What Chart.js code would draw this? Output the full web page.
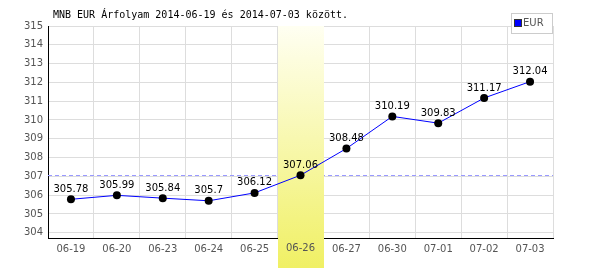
<!DOCTYPE html>
<html>
<head>
<meta charset="utf-8">
<script src="https://cdn.jsdelivr.net/npm/chart.js@4/dist/chart.umd.min.js"></script>
<style>
  html, body { margin: 0; padding: 0; background: #fff; }
  #wrap { width: 600px; height: 270px; }
</style>
</head>
<body>
<div id="wrap"><canvas id="rateChart" width="600" height="270"></canvas></div>
<script>
// MNB EUR rates
const days = ["06-19","06-20","06-23","06-24","06-25","06-26","06-27","06-30","07-01","07-02","07-03"];
const eurRates = [305.78, 305.99, 305.84, 305.7, 306.12, 307.06, 308.48, 310.19, 309.83, 311.17, 312.04];
const yTicks = [304,305,306,307,308,309,310,311,312,313,314,315];
const markedDay = "06-26";
const refRate = 307.06;
const titleText = "MNB EUR Árfolyam 2014-06-19 és 2014-07-03 között.";

const extras = {
  id: "extras",
  beforeDatasetsDraw(chart) {
    const c = chart.ctx, area = chart.chartArea;
    const x = chart.scales.x, y = chart.scales.y;

    // dashed reference line
    const ry = Math.round(y.getPixelForValue(refRate)) + 0.5;
    c.save();
    c.strokeStyle = "#9999ff";
    c.lineWidth = 1;
    c.setLineDash([4, 3]);
    c.beginPath();
    c.moveTo(area.left, ry);
    c.lineTo(area.right, ry);
    c.stroke();
    c.restore();

    // highlighted day band
    const i = days.indexOf(markedDay);
    const half = (x.getPixelForValue(1) - x.getPixelForValue(0)) / 2;
    const cx = x.getPixelForValue(i);
    const grad = c.createLinearGradient(0, area.top, 0, 268);
    grad.addColorStop(0, "rgb(255,255,242)");
    grad.addColorStop(1, "rgb(240,240,100)");
    c.save();
    c.fillStyle = grad;
    c.fillRect(Math.round(cx - half), area.top, Math.round(half * 2), 268 - area.top);
    // tick label again on top of the band
    c.fillStyle = "#555";
    c.font = "10px 'DejaVu Sans'";
    c.textAlign = "center";
    c.textBaseline = "middle";
    c.fillText(markedDay, cx, 248);
    c.restore();
  },
  afterDatasetsDraw(chart) {
    const c = chart.ctx;
    const meta = chart.getDatasetMeta(0);
    c.save();
    c.fillStyle = "#000";
    c.font = "10px 'DejaVu Sans'";
    c.textAlign = "center";
    c.textBaseline = "bottom";
    meta.data.forEach((pt, k) => {
      c.fillText(String(eurRates[k]), pt.x, pt.y - 5);
    });

    // title
    c.font = "10px 'DejaVu Sans Mono'";
    c.textAlign = "left";
    c.textBaseline = "middle";
    c.fillText(titleText, 53, 15);

    // legend
    c.fillStyle = "#fff";
    c.fillRect(511, 13, 41, 20);
    c.strokeStyle = "#cccccc";
    c.lineWidth = 1;
    c.strokeRect(511.5, 13.5, 41, 20);
    c.fillStyle = "#0000ff";
    c.fillRect(515, 20, 6, 6);
    c.strokeStyle = "#333";
    c.strokeRect(514.5, 19.5, 7, 7);
    c.fillStyle = "#555";
    c.font = "10px 'DejaVu Sans'";
    c.fillText("EUR", 523, 23.5);
    c.restore();
  }
};

new Chart(document.getElementById("rateChart"), {
  type: "line",
  data: {
    labels: days,
    datasets: [{
      label: "EUR",
      data: eurRates,
      borderColor: "#0000ff",
      borderWidth: 1,
      tension: 0,
      pointRadius: 4,
      pointBackgroundColor: "#000",
      pointBorderColor: "#000",
      pointBorderWidth: 0
    }]
  },
  options: {
    responsive: false,
    animation: false,
    layout: { padding: { top: 26, right: 47, left: 0, bottom: 0 } },
    plugins: { legend: { display: false }, tooltip: { enabled: false } },
    scales: {
      x: {
        offset: true,
        grid: { color: "#dddddd", drawTicks: false, offset: true },
        border: { color: "#000", width: 1 },
        ticks: { color: "#555", font: { family: "DejaVu Sans", size: 10 }, padding: 5, maxRotation: 0, autoSkip: false },
        afterFit(s) { s.height = 32; }
      },
      y: {
        min: 303.72,
        max: 315,
        grid: { color: "#dddddd", drawTicks: false },
        border: { color: "#000", width: 1 },
        ticks: { color: "#555", font: { family: "DejaVu Sans", size: 10 }, padding: 5 },
        afterBuildTicks(s) { s.ticks = yTicks.map(v => ({ value: v })); },
        afterFit(s) { s.width = 48; }
      }
    }
  },
  plugins: [extras]
});
</script>
</body>
</html>
